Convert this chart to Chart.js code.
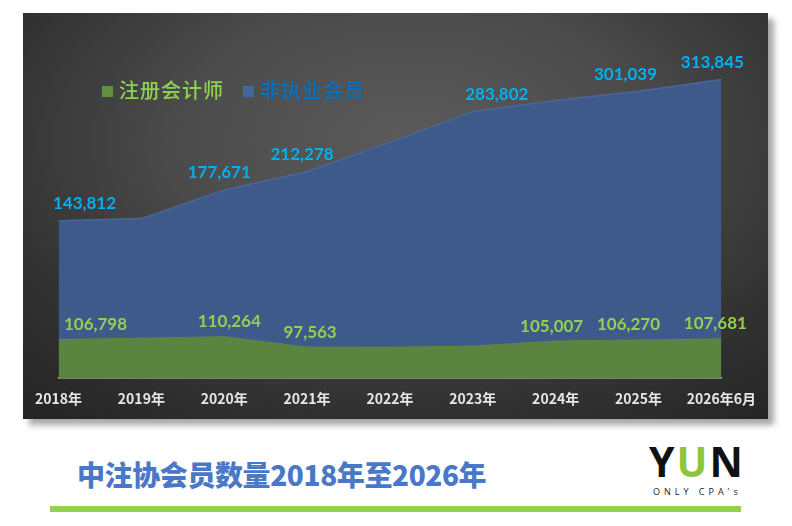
<!DOCTYPE html>
<html>
<head>
<meta charset="utf-8">
<script src="https://cdn.jsdelivr.net/npm/chart.js@4.4.1/dist/chart.umd.min.js"></script>
<style>
  body { margin:0; width:792px; height:526px; background:#fff; position:relative; overflow:hidden; font-family: Lato, "Noto Sans CJK SC", sans-serif; }
  #panel { position:absolute; left:23px; top:13px; width:745px; height:406px;
    background: radial-gradient(ellipse 75% 85% at 52% 32%, #5b5b5b 0%, #4c4c4c 40%, #333 75%, #262626 100%);
    box-shadow: 6px 6px 6px rgba(0,0,0,0.35); }
  #mycanvas { position:absolute; left:0; top:0; }
  .leg { position:absolute; top:63px; font-size:20px; letter-spacing:1px; font-family:"Noto Sans CJK SC", sans-serif; font-weight:500; line-height:28px; }
  .leg span { display:inline-block; width:11px; height:11px; margin-right:6px; vertical-align:1px; }
  #title { position:absolute; left:77px; top:454px; font-size:28px; font-weight:900; color:#4a78c8; font-family:"Noto Sans CJK SC", sans-serif; letter-spacing:-0.4px; }
  #logo { position:absolute; left:649px; top:436px; font-family:"Open Sans", sans-serif; font-size:41px; font-weight:700; letter-spacing:2px; color:#111; line-height:50px; }
  #logo b { color:#8cc63f; font-weight:700; }
  #sub { position:absolute; left:653px; top:485px; font-family:"Open Sans", sans-serif; font-size:9px; letter-spacing:4px; color:#222; }
  #bar { position:absolute; left:50px; top:506px; width:691px; height:6px; background:#92d050; }
</style>
</head>
<body>
<div id="panel">
  <canvas id="mycanvas" width="745" height="406"></canvas>
  <div class="leg" style="left:79px;color:#8fd14f;"><span style="background:#5e9142"></span>注册会计师</div>
  <div class="leg" style="left:220px;color:#0070c0;"><span style="background:#4466a0"></span>非执业会员</div>
</div>
<div id="title">中注协会员数量2018年至2026年</div>
<div id="logo">Y<b>U</b>N</div>
<div id="sub">ONLY CPA's</div>
<div id="bar"></div>
<script>
var years = ['2018年','2019年','2020年','2021年','2022年','2023年','2024年','2025年','2026年6月'];
var cpa = [106798, 108500, 110264, 97563, 97500, 98800, 105007, 106270, 107681];
var nonPractising = [143812, 144700, 177671, 212278, 248000, 283802, 291000, 301039, 313845];

// which points carry a value label, and small nudges like in the original
var cpaLabelIdx = [0, 2, 3, 6, 7, 8];
var cpaLabelDx = [37, 0, 5, 3, 0, 0, -4, -10, -6];
var npLabelIdx = [0, 2, 3, 5, 7, 8];
var npLabelDx = [26, 0, -5, -5, 0, 24, 0, -13, -9];

var valueLabels = {
  id: 'valueLabels',
  afterDatasetsDraw: function(chart) {
    var ctx = chart.ctx;
    ctx.save();
    ctx.font = 'bold 17px Lato, sans-serif';
    ctx.textAlign = 'center';
    ctx.textBaseline = 'middle';
    var sets = [
      { i: 0, idx: cpaLabelIdx, dx: cpaLabelDx, color: '#92d050', dy: -15 },
      { i: 1, idx: npLabelIdx, dx: npLabelDx, color: '#00b0f0', dy: -17 }
    ];
    sets.forEach(function(s) {
      var meta = chart.getDatasetMeta(s.i);
      var data = chart.data.datasets[s.i].data;
      s.idx.forEach(function(k) {
        var el = meta.data[k];
        ctx.fillStyle = s.color;
        ctx.fillText(data[k].toLocaleString('en-US'), el.x + s.dx[k], el.y + s.dy);
      });
    });
    ctx.restore();
  }
};

var chartdata = {
  labels: years,
  datasets: [
    {
      label: '注册会计师',
      data: cpa,
      backgroundColor: '#5a843f',
      borderColor: '#5f8a44',
      borderWidth: 1,
      fill: 'start',
      pointRadius: 0,
      tension: 0
    },
    {
      label: '非执业会员',
      data: nonPractising,
      backgroundColor: '#3d5a8b',
      borderColor: '#4a6799',
      borderWidth: 1.5,
      fill: '-1',
      pointRadius: 0,
      tension: 0
    }
  ]
};

var ctx = document.getElementById('mycanvas');
var areaChart = new Chart(ctx, {
  type: 'line',
  data: chartdata,
  plugins: [valueLabels],
  options: {
    responsive: false,
    animation: false,
    layout: { padding: { left: 29, right: 45, top: 43, bottom: 0 } },
    plugins: { legend: { display: false }, tooltip: { enabled: false } },
    scales: {
      x: {
        offset: false,
        grid: { display: false, drawTicks: false },
        border: { display: true, color: '#c8c8c8', width: 1.5 },
        ticks: { color: '#e6e6e6', padding: 12, font: { family: '"Noto Sans CJK SC", sans-serif', size: 14, weight: 'bold' }, maxRotation: 0, autoSkip: false }
      },
      y: {
        display: false,
        stacked: true,
        min: 60000,
        max: 450000
      }
    }
  }
});
</script>
</body>
</html>
